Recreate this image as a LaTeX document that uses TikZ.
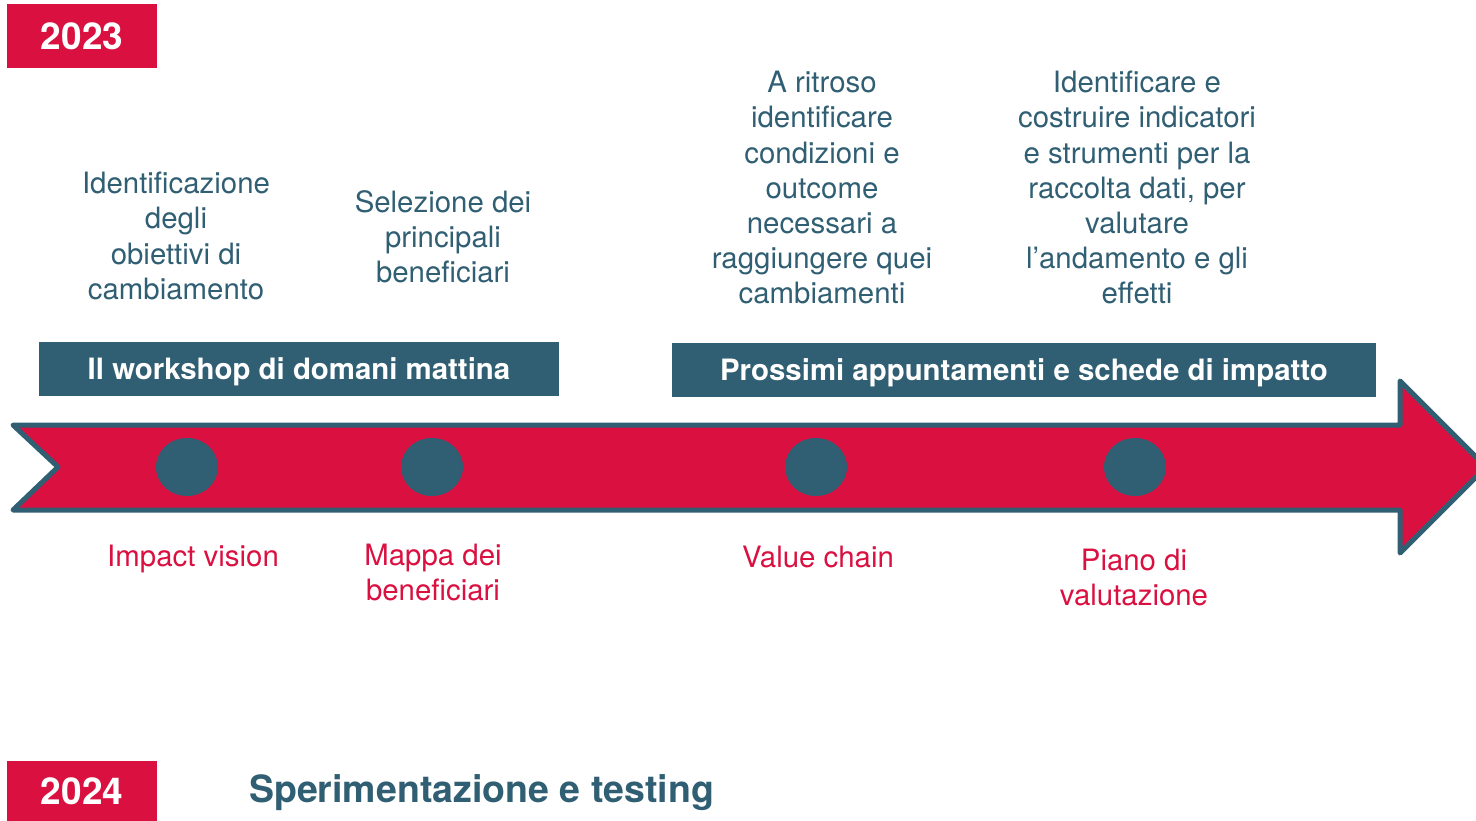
\documentclass[tikz,border=0pt]{standalone}
\usepackage{fontspec}
\setmainfont{TeX Gyre Heros}
\usetikzlibrary{shapes.geometric}
\definecolor{crim}{RGB}{217,16,64}
\definecolor{teal1}{RGB}{48,94,115}
\newcommand\mystrut{\rule{0pt}{21.5pt}}
\begin{document}
\begin{tikzpicture}[x=1pt,y=-1pt,
  desc/.style={text=teal1, font=\fontsize{29.4}{35.2}\selectfont, align=center, inner sep=0pt, anchor=north},
  lab/.style={text=crim, font=\fontsize{29.4}{35.2}\selectfont, align=center, inner sep=0pt, anchor=north},
  band/.style={fill=teal1, text=white, font=\bfseries\fontsize{29.4}{35}\selectfont, inner sep=0pt, minimum height=54pt, text height=21pt, text depth=0pt},
  year/.style={fill=crim, text=white, font=\bfseries\fontsize{37}{40}\selectfont, inner sep=0pt, minimum width=150pt},
  dot/.style={ellipse, fill=teal1, minimum width=62pt, minimum height=58pt, inner sep=0pt}]
\useasboundingbox (0,0) rectangle (1476,820);
\clip (0,0) rectangle (1476,820);
% year boxes
\node[year, minimum height=64pt] (y2023) at (82,36) {2023};
\node[year, minimum height=60pt] (y2024) at (82,791) {2024};
\node[font=\bfseries\fontsize{37.5}{40}\selectfont, text=teal1, anchor=base west, inner sep=0pt] (sper) at (249,802) {Sperimentazione e testing};
% descriptions
\node[desc] (obiettivi) at (176,172) {\mystrut Identificazione\\degli\\obiettivi di\\cambiamento};
\node[desc] (selezione) at (443,190) {\mystrut Selezione dei\\principali\\beneficiari};
\node[desc] (ritroso) at (822,71) {\mystrut A ritroso\\identificare\\condizioni e\\outcome\\necessari a\\raggiungere quei\\cambiamenti};
\node[desc] (indicatori) at (1137,71) {\mystrut Identificare e\\costruire indicatori\\e strumenti per la\\raccolta dati, per\\valutare\\l’andamento e gli\\effetti};
% bands
\node[band, minimum width=520pt] (workshop) at (299,369) {Il workshop di domani mattina};
\node[band, minimum width=704pt] (prossimi) at (1024,370) {Prossimi appuntamenti e schede di impatto};
% arrow
\path[fill=crim, draw=teal1, line width=5pt, line join=round]
  (13,425) -- (1400,425) -- (1400,381) -- (1486,467) -- (1400,553) -- (1400,510) -- (13,510) -- (58,467) -- cycle;
% dots
\node[dot] (d1) at (187,467) {};
\node[dot] (d2) at (432,467) {};
\node[dot] (d3) at (816,467) {};
\node[dot] (d4) at (1135,467) {};
% labels
\node[lab, anchor=base] (impact) at (193,566) {Impact vision};
\node[lab] (mappa) at (433,544) {\mystrut Mappa dei\\beneficiari};
\node[lab, anchor=base] (value) at (818,567) {Value chain};
\node[lab] (piano) at (1134,549) {\mystrut Piano di\\valutazione};
\end{tikzpicture}
\end{document}
